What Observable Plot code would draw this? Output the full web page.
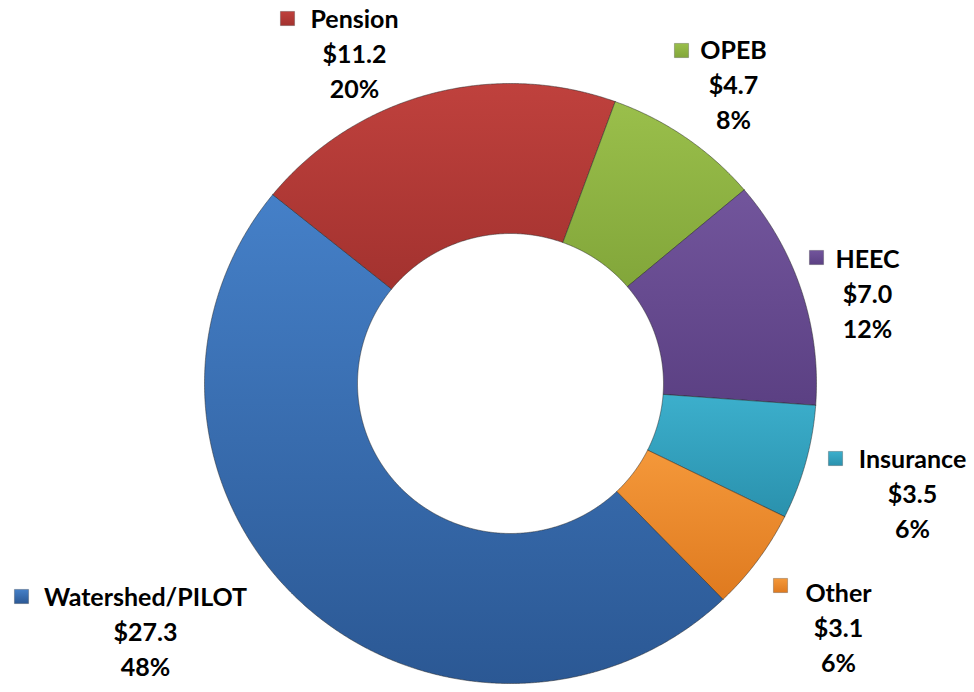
<!DOCTYPE html>
<html><head><meta charset="utf-8">
<script src="https://cdn.jsdelivr.net/npm/d3@7"></script>
<script src="https://cdn.jsdelivr.net/npm/@observablehq/plot@0.6"></script>
<style>body{margin:0;background:#fff} #chart svg{display:block}</style>
</head><body><div id="chart"></div>
<script>
// ---- data ----
const categories = ["Watershed/PILOT", "Pension", "OPEB", "HEEC", "Insurance", "Other"];
const amounts = [27.3, 11.2, 4.7, 7.0, 3.5, 3.1];
const valueLabels = ["$27.3", "$11.2", "$4.7", "$7.0", "$3.5", "$3.1"];
const percentLabels = ["48%", "20%", "8%", "12%", "6%", "6%"];

// ---- styles ----
const colorTop = ["#4580c8", "#bf413d", "#9abf4b", "#72559c", "#3cafcc", "#f4983a"];
const colorBottom = ["#2b5894", "#a3322f", "#82a63a", "#5b4083", "#2a91ad", "#df7a1f"];

// ---- layout (pixels) ----
const W = 974, H = 692, CX = 510, CY = 383, RX = 306, RY = 300, HOLE = 0.5, START_DEG = 136;
const labelCX = [145, 354, 733, 867, 912, 838];
const labelCY = [597, 19, 50, 259, 459, 593];
const markerX = [21, 287, 681, 816, 835, 780];
const markerY = [596, 18, 50, 257, 458, 585];
const LINE_GAP = 35;

const ux = px => (px - CX) / RX;
const uy = py => (CY - py) / RY;

const start = START_DEG * Math.PI / 180;
const arcs = d3.pie().sort(null).startAngle(start).endAngle(start + 2 * Math.PI)(amounts);

const sliceMarks = arcs.map((a, i) => {
  const pts = [];
  const n = Math.max(8, Math.ceil((a.endAngle - a.startAngle) / 0.005));
  for (let k = 0; k <= n; k++) {
    const t = a.startAngle + (a.endAngle - a.startAngle) * k / n;
    pts.push({x: Math.sin(t), y: Math.cos(t)});
  }
  for (let k = n; k >= 0; k--) {
    const t = a.startAngle + (a.endAngle - a.startAngle) * k / n;
    pts.push({x: HOLE * Math.sin(t), y: HOLE * Math.cos(t)});
  }
  pts.push(pts[0]);
  return Plot.line(pts, {x: "x", y: "y", fill: `url(#g${i})`, stroke: "rgba(40,40,40,0.5)", strokeWidth: 1, strokeLinejoin: "round"});
});

const labelRows = [];
categories.forEach((c, i) => {
  [c, valueLabels[i], percentLabels[i]].forEach((t, j) => {
    labelRows.push({x: ux(labelCX[i]), y: uy(labelCY[i] + j * LINE_GAP), text: t});
  });
});

const markerMarks = categories.map((c, i) =>
  Plot.dot([{x: ux(markerX[i]), y: uy(markerY[i])}], {x: "x", y: "y", symbol: "square", r: 8, fill: `url(#g${i})`, stroke: "rgba(40,40,40,0.35)", strokeWidth: 0.8})
);

const svg = Plot.plot({
  width: W, height: H,
  marginTop: 0, marginRight: 0, marginBottom: 0, marginLeft: 0,
  x: {domain: [ux(0), ux(W)], axis: null},
  y: {domain: [uy(H), uy(0)], axis: null},
  style: {fontFamily: "Lato, 'Open Sans', sans-serif", background: "#fff"},
  marks: [
    ...sliceMarks,
    ...markerMarks,
    Plot.text(labelRows, {x: "x", y: "y", text: "text", fontSize: 25, fontWeight: "bold", fill: "#000"})
  ]
});

const defs = d3.select(svg).insert("defs", ":first-child");
colorTop.forEach((c, i) => {
  const g = defs.append("linearGradient").attr("id", `g${i}`).attr("x1", 0).attr("y1", 0).attr("x2", 0).attr("y2", 1);
  g.append("stop").attr("offset", "0%").attr("stop-color", c);
  g.append("stop").attr("offset", "100%").attr("stop-color", colorBottom[i]);
});

document.getElementById("chart").appendChild(svg);
</script>
</body></html>
